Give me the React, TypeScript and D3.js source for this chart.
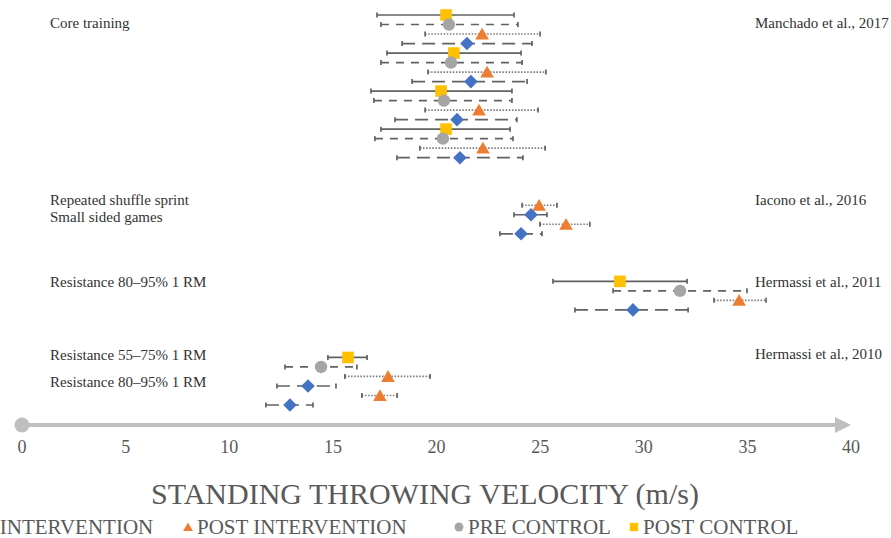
import React from 'react'
import * as d3 from 'd3'

// series: 0 pre intervention, 1 post intervention, 2 pre control, 3 post control
const seriesNames = ['PRE INTERVENTION', 'POST INTERVENTION', 'PRE CONTROL', 'POST CONTROL']
const seriesColors = ['#4472C4', '#ED7D31', '#A5A5A5', '#FFC000']
const seriesDash = ['13,7', '1.5,1.6', '8,7', null]

// one entry per row (top to bottom), row slot = categorical position on the vertical axis
const rowSlot = [0, 1, 2, 3, 4, 5, 6, 7, 8, 9, 10, 11, 12, 13, 14, 15, 20, 21, 22, 23, 28, 29, 30, 31, 36, 37, 38, 39, 40, 41]
const rowSeries = [3, 2, 1, 0, 3, 2, 1, 0, 3, 2, 1, 0, 3, 2, 1, 0, 1, 0, 1, 0, 3, 2, 1, 0, 3, 2, 1, 0, 1, 0]
const rowMean = [20.46, 20.6, 22.2, 21.47, 20.84, 20.7, 22.44, 21.66, 20.22, 20.36, 22.05, 20.99, 20.46, 20.31, 22.24, 21.13,
  24.95, 24.56, 26.25, 24.08, 28.85, 31.75, 34.6, 29.48, 15.73, 14.43, 17.66, 13.8, 17.27, 12.93]
const rowLow = [17.13, 17.32, 19.45, 18.34, 17.61, 17.32, 19.59, 18.82, 16.84, 16.98, 19.45, 18.0, 17.32, 17.03, 19.2, 18.09,
  24.13, 23.74, 24.99, 23.06, 25.62, 28.52, 33.39, 26.68, 14.76, 12.69, 15.58, 12.3, 16.4, 11.77]
const rowHigh = [23.74, 23.93, 25.0, 24.61, 24.08, 24.13, 25.28, 24.37, 23.64, 23.64, 24.9, 23.88, 23.55, 23.69, 25.24, 24.17,
  25.81, 25.33, 27.4, 25.09, 32.09, 34.98, 35.9, 32.14, 16.65, 16.16, 19.69, 15.15, 18.1, 14.04]

const xTicks = [0, 5, 10, 15, 20, 25, 30, 35, 40]

const leftLabels = ['Core training', 'Repeated shuffle sprint', 'Small sided games', 'Resistance 80\u201395% 1 RM', 'Resistance 55\u201375% 1 RM', 'Resistance 80\u201395% 1 RM']
const leftLabelSlot = [0.8, 19.5, 21.2, 28.1, 35.7, 38.6]
const rightLabels = ['Manchado et al., 2017', 'Iacono et al., 2016', 'Hermassi et al., 2011', 'Hermassi et al., 2010']
const rightLabelSlot = [0.8, 19.5, 28.1, 35.6]

const W = 891
const H = 538

function Marker({ s, x, y, k = 1 }: { s: number, x: number, y: number, k?: number }) {
  const c = seriesColors[s]
  if (s === 0) {
    const r = 6.8 * k
    return <path d={`M${x},${y - r}L${x + r},${y}L${x},${y + r}L${x - r},${y}Z`} fill={c} />
  }
  if (s === 1) {
    const p = d3.symbol().type(d3.symbolTriangle).size(80 * k * k)()
    return <path d={p || ''} transform={`translate(${x},${y + 1.5 * k})`} fill={c} />
  }
  if (s === 2) return <circle cx={x} cy={y} r={6.2 * k} fill={c} />
  const h = 5.8 * k
  return <rect x={x - h} y={y - h} width={h * 2} height={h * 2} fill={c} />
}

export default function App() {
  const x = d3.scaleLinear().domain([0, 40]).range([22, 851])
  const y = d3.scaleLinear().domain([0, 41]).range([15, 405])
  const axisY = 425
  const font = '"Liberation Serif", "Times New Roman", serif'

  // legend is wider than the picture: the first item is cut at the left edge
  const legendX = [-53, 188, 459, 634]

  return (
    <svg width={W} height={H} style={{ position: 'absolute', left: 0, top: 0, background: '#fff' }} fontFamily={font}>
      {leftLabels.map((t, i) => (
        <text key={'l' + i} x={50} y={y(leftLabelSlot[i]) + 5} fontSize={15} fill="#333">{t}</text>
      ))}
      {rightLabels.map((t, i) => (
        <text key={'r' + i} x={755} y={y(rightLabelSlot[i]) + 5} fontSize={15} fill="#333">{t}</text>
      ))}

      {rowSlot.map((slot, i) => {
        const yy = y(slot)
        const x0 = x(rowLow[i]), x1 = x(rowHigh[i])
        const s = rowSeries[i]
        const dash = seriesDash[s]
        return (
          <g key={'row' + i} stroke="#626262" strokeWidth={1.7}>
            <line x1={x0} x2={x1} y1={yy} y2={yy} strokeDasharray={dash || undefined} stroke={s === 1 ? '#7a7a7a' : '#626262'} />
            <line x1={x0} x2={x0} y1={yy - 2.5} y2={yy + 2.5} />
            <line x1={x1} x2={x1} y1={yy - 2.5} y2={yy + 2.5} />
          </g>
        )
      })}
      {rowSlot.map((slot, i) => (
        <Marker key={'m' + i} s={rowSeries[i]} x={x(rowMean[i])} y={y(slot)} />
      ))}

      {/* axis */}
      <line x1={x(0)} x2={x(40) - 14} y1={axisY} y2={axisY} stroke="#bfbfbf" strokeWidth={4} />
      <path d={`M${x(40) - 16},${axisY - 8}L${x(40)},${axisY}L${x(40) - 16},${axisY + 8}Z`} fill="#bfbfbf" />
      <circle cx={x(0)} cy={axisY} r={7.5} fill="#bfbfbf" />
      {xTicks.map(t => (
        <text key={'t' + t} x={x(t)} y={453} fontSize={18} textAnchor="middle" fill="#595959">{t}</text>
      ))}

      <text x={425} y={504} fontSize={30} textAnchor="middle" fill="#595959">STANDING THROWING VELOCITY (m/s)</text>

      {seriesNames.map((n, i) => (
        <g key={'lg' + i}>
          <Marker s={i} x={legendX[i]} y={527} k={0.72} />
          <text x={legendX[i] + 9} y={534} fontSize={21} fill="#595959">{n}</text>
        </g>
      ))}
    </svg>
  )
}
